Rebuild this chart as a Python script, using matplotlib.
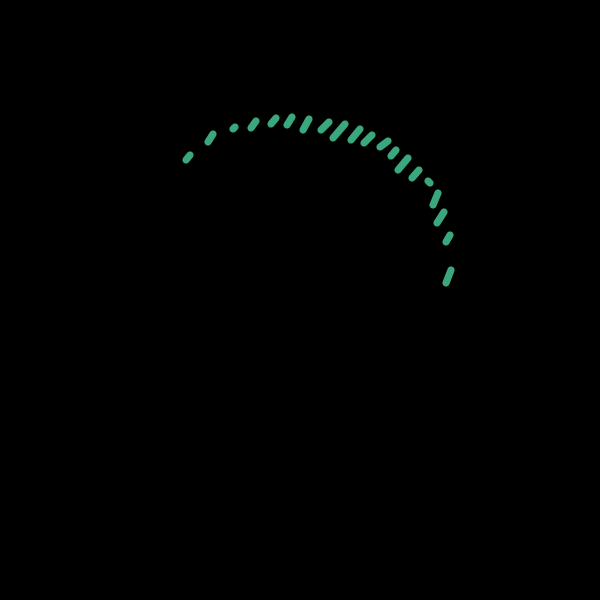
import matplotlib
matplotlib.use("Agg")
import matplotlib.pyplot as plt

# short stroke segments (start / end), image-space coordinates
x_start = [186, 208, 233, 251, 271, 287, 303, 321, 333, 351, 364, 380, 391, 398, 412, 428, 433, 437, 446, 446]
y_start = [160, 142, 129, 128, 124, 125, 130, 130, 138, 140, 143, 147, 156, 170, 178, 181, 205, 223, 242, 283]
x_end = [190, 213, 235, 256, 276, 292, 309, 329, 345, 360, 372, 388, 396, 408, 419, 430, 438, 444, 450, 451]
y_end = [155, 134, 127, 121, 118, 117, 119, 122, 124, 129, 135, 141, 150, 158, 170, 183, 193, 212, 235, 270]

stroke_color = "#3aa87c"

fig = plt.figure(figsize=(6, 6), dpi=100, facecolor="black")
ax = fig.add_axes([0, 0, 1, 1])
ax.set_facecolor("black")
ax.set_xlim(0, 600)
ax.set_ylim(600, 0)
ax.axis("off")

for xa, ya, xb, yb in zip(x_start, y_start, x_end, y_end):
    ax.plot([xa, xb], [ya, yb], color=stroke_color, lw=5.2, solid_capstyle="round")

fig.savefig("out.png", dpi=100, facecolor="black")
